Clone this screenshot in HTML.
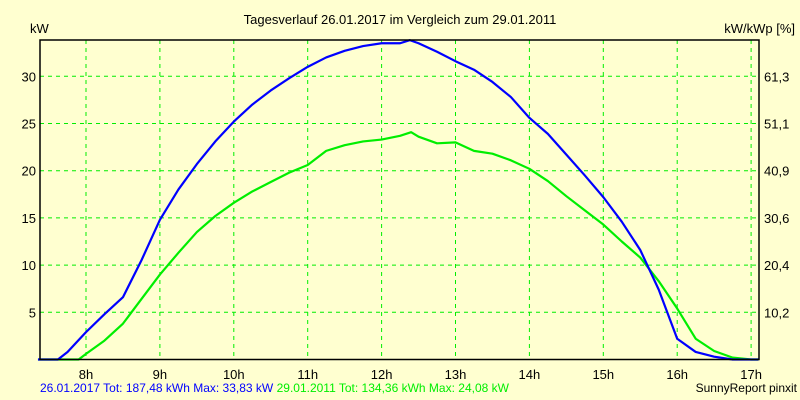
<!DOCTYPE html>
<html><head><meta charset="utf-8"><style>
html,body{margin:0;padding:0;background:#ffffd0;}
svg{display:block;font-family:"Liberation Sans",sans-serif;}
</style></head><body>
<svg id="chart" width="800" height="400" xmlns="http://www.w3.org/2000/svg">
<rect x="0" y="0" width="800" height="400" fill="#ffffd0"/>
<text x="400" y="24" font-size="13" text-anchor="middle" fill="#000">Tagesverlauf 26.01.2017 im Vergleich zum 29.01.2011</text>
<text x="30" y="33" font-size="13" fill="#000">kW</text>
<text x="795" y="33" font-size="13" text-anchor="end" fill="#000">kW/kWp [%]</text>
<g id="grid"></g>
<g id="series"></g>
<rect x="40" y="40" width="719" height="319.5" fill="none" stroke="#000" stroke-width="1.5"/>
<text x="40" y="392" font-size="12" fill="#0000ff">26.01.2017 Tot: 187,48 kWh Max: 33,83 kW <tspan fill="#00ee00">29.01.2011 Tot: 134,36 kWh Max: 24,08 kW</tspan></text>
<text x="797" y="392" font-size="12" text-anchor="end" fill="#000">SunnyReport pinxit</text>
</svg>
<script>
const hourTicks=[8,9,10,11,12,13,14,15,16,17];
const kwTicks=[5,10,15,20,25,30];
const pctLabels=["10,2","20,4","30,6","40,9","51,1","61,3"];
const pctTickKw=[5,10,15,20,25,30];
const blueHours=[7.35,7.62,7.75,8,8.25,8.5,8.75,9,9.25,9.5,9.75,10,10.25,10.5,10.75,11,11.25,11.5,11.75,12,12.25,12.38,12.5,12.75,13,13.25,13.5,13.75,14,14.25,14.5,14.75,15,15.25,15.5,15.75,16,16.25,16.5,16.75,17.1];
const blueKw=[0,0,0.8,2.9,4.8,6.6,10.5,14.8,18,20.7,23.1,25.2,27,28.5,29.8,31,32,32.7,33.2,33.5,33.5,33.83,33.5,32.6,31.6,30.7,29.4,27.8,25.6,23.9,21.7,19.5,17.2,14.6,11.6,7.4,2.2,0.8,0.3,0,0];
const greenHours=[7.35,7.9,8,8.25,8.5,8.75,9,9.25,9.5,9.75,10,10.25,10.5,10.75,11,11.25,11.5,11.75,12,12.25,12.4,12.5,12.75,13,13.25,13.5,13.75,14,14.25,14.5,14.75,15,15.25,15.5,15.75,16,16.25,16.5,16.75,17,17.1];
const greenKw=[0,0,0.6,2,3.8,6.4,9,11.3,13.5,15.2,16.6,17.8,18.8,19.8,20.6,22.1,22.7,23.1,23.3,23.7,24.08,23.6,22.9,23,22.1,21.8,21.1,20.2,18.9,17.3,15.8,14.3,12.5,10.8,8.3,5.4,2.2,0.9,0.2,0,0];
const NS="http://www.w3.org/2000/svg";
const xOf=h=>86+(h-8)*73.9;
const yOf=v=>359.5-v*9.44;
const grid=document.getElementById('grid');
const ser=document.getElementById('series');
function mk(tag,attrs,parent){const e=document.createElementNS(NS,tag);for(const k in attrs)e.setAttribute(k,attrs[k]);parent.appendChild(e);return e;}
hourTicks.forEach(h=>{
  const l=mk('line',{x1:xOf(h),x2:xOf(h),y1:40,y2:359,stroke:'#00ee00','stroke-dasharray':'4,4'},grid);
  
  
  const t=mk('text',{x:xOf(h),y:379,'font-size':13,'text-anchor':'middle',fill:'#000'},grid);
  t.textContent=h+'h';
  
  
});
kwTicks.forEach(v=>{
  const l=mk('line',{x1:40,x2:759,y1:yOf(v),y2:yOf(v),stroke:'#00ee00','stroke-dasharray':'4,4'},grid);
  
  
  const t=mk('text',{x:36,y:yOf(v)+5,'font-size':13,'text-anchor':'end',fill:'#000'},grid);
  t.textContent=v;
  
  
});
pctTickKw.forEach((v,i)=>{
  const t=mk('text',{x:764,y:yOf(v)+5,'font-size':13,fill:'#000'},grid);
  t.textContent=pctLabels[i];
  
  
});
function line(hs,vs,color,name){
  const p=mk('polyline',{points:hs.map((h,i)=>xOf(h)+','+yOf(vs[i])).join(' '),fill:'none',stroke:color,'stroke-width':2.2,'stroke-linejoin':'round'},ser);
  
  
}
line(greenHours,greenKw,'#00ee00','series-2011-line');
line(blueHours,blueKw,'#0000ff','series-2017-line');
</script>
</body></html>
